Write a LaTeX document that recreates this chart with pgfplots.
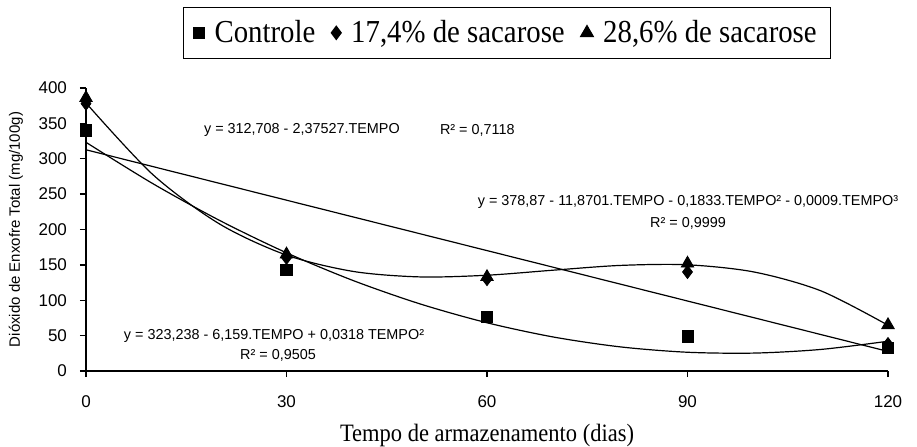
\documentclass[border=0pt]{standalone}
\usepackage{pgfplots}
\pgfplotsset{compat=1.18}
\usepackage{fontspec}
\setmainfont{Liberation Serif}
\newfontfamily\sansf{Liberation Sans}
\newfontfamily\legf[FakeStretch=0.9]{Liberation Serif}
\newcommand{\eqfont}{\sansf\fontsize{7.2}{8}\selectfont}

\begin{document}
\begin{tikzpicture}
\path[use as bounding box] (-43pt,-37.5pt) rectangle (415.5pt,185.5pt);
\begin{axis}[
  at={(0,0)}, anchor=south west,
  scale only axis, width=401pt, height=141.5pt,
  xmin=0, xmax=120, ymin=0, ymax=400,
  axis x line=bottom, axis y line=left,
  axis line style={-, line width=0.7pt},
  xtick={0,30,60,90,120}, ytick={0,50,...,400},
  tick align=outside, major tick length=3pt,
  tick style={black, line width=0.7pt},
  /pgf/number format/assume math mode=true,
  ticklabel style={font=\sansf\fontsize{8.5}{10}\selectfont},
  xticklabel style={yshift=-6pt},
  yticklabel style={xshift=-3pt},
  legend columns=3,
  legend style={at={(axis description cs:0.525,1.195)}, anchor=center,
    draw=black, line width=0.6pt, font=\legf\fontsize{16}{18}\selectfont,
    inner xsep=5pt, inner ysep=4.5pt,
    /tikz/every odd column/.append style={column sep=3pt},
    /tikz/every even column/.append style={column sep=6pt}},
  legend cell align=left,
  clip=false,
]
% quadratic trend (Controle)
\addplot[black, line width=0.6pt, smooth, forget plot] coordinates {
  (0,323.24) (10,264.83) (20,212.78) (30,167.09) (40,127.76) (50,94.79)
  (60,68.18) (70,47.93) (80,34.04) (90,26.51) (100,25.34) (110,30.53) (120,42.08)};
% linear trend (17,4%)
\addplot[black, line width=0.6pt, forget plot] coordinates {(0,312.708) (120,27.676)};
% cubic trend (28,6%)
\addplot[black, line width=0.6pt, smooth, forget plot] coordinates {
  (0,378.87) (10,277.61) (20,207.71) (30,163.84) (40,140.71) (50,132.99)
  (60,135.38) (70,142.57) (80,149.26) (90,150.12) (100,139.86) (110,113.15) (120,64.70)};

\addplot[only marks, mark=square*, mark size=2.8pt, black] coordinates {
  (0,340) (30,143) (60,76) (90,49) (120,33)};
\addlegendentry{Controle}
\addplot[only marks, mark=diamond*, mark size=3.3pt, black] coordinates {
  (0,378) (30,160) (60,130) (90,140) (120,38)};
\addlegendentry{17,4\% de sacarose}
\addplot[only marks, mark=triangle*, mark size=3.6pt, black] coordinates {
  (0,386) (30,165) (60,133) (90,152) (120,65)};
\addlegendentry{28,6\% de sacarose}
\end{axis}

% fitted equations
\node[anchor=west, font=\eqfont] at (55.5pt,120.5pt) {y = 312,708 - 2,37527.TEMPO};
\node[anchor=west, font=\eqfont] at (173.5pt,120.5pt) {R² = 0,7118};
\node[font=\eqfont] at (301pt,84.5pt) {y = 378,87 - 11,8701.TEMPO - 0,1833.TEMPO² - 0,0009.TEMPO³};
\node[font=\eqfont] at (301pt,74pt) {R² = 0,9999};
\node[font=\eqfont] at (94pt,17.5pt) {y = 323,238 - 6,159.TEMPO + 0,0318 TEMPO²};
\node[font=\eqfont] at (96pt,8pt) {R² = 0,9505};

% axis titles
\node[rotate=90, font=\sansf\fontsize{7.5}{9}\selectfont] at (-35pt,70.75pt) {Dióxido de Enxofre Total (mg/100g)};
\node[font=\legf\fontsize{12.5}{14}\selectfont] at (200.5pt,-32pt) {Tempo de armazenamento (dias)};
\end{tikzpicture}
\end{document}
